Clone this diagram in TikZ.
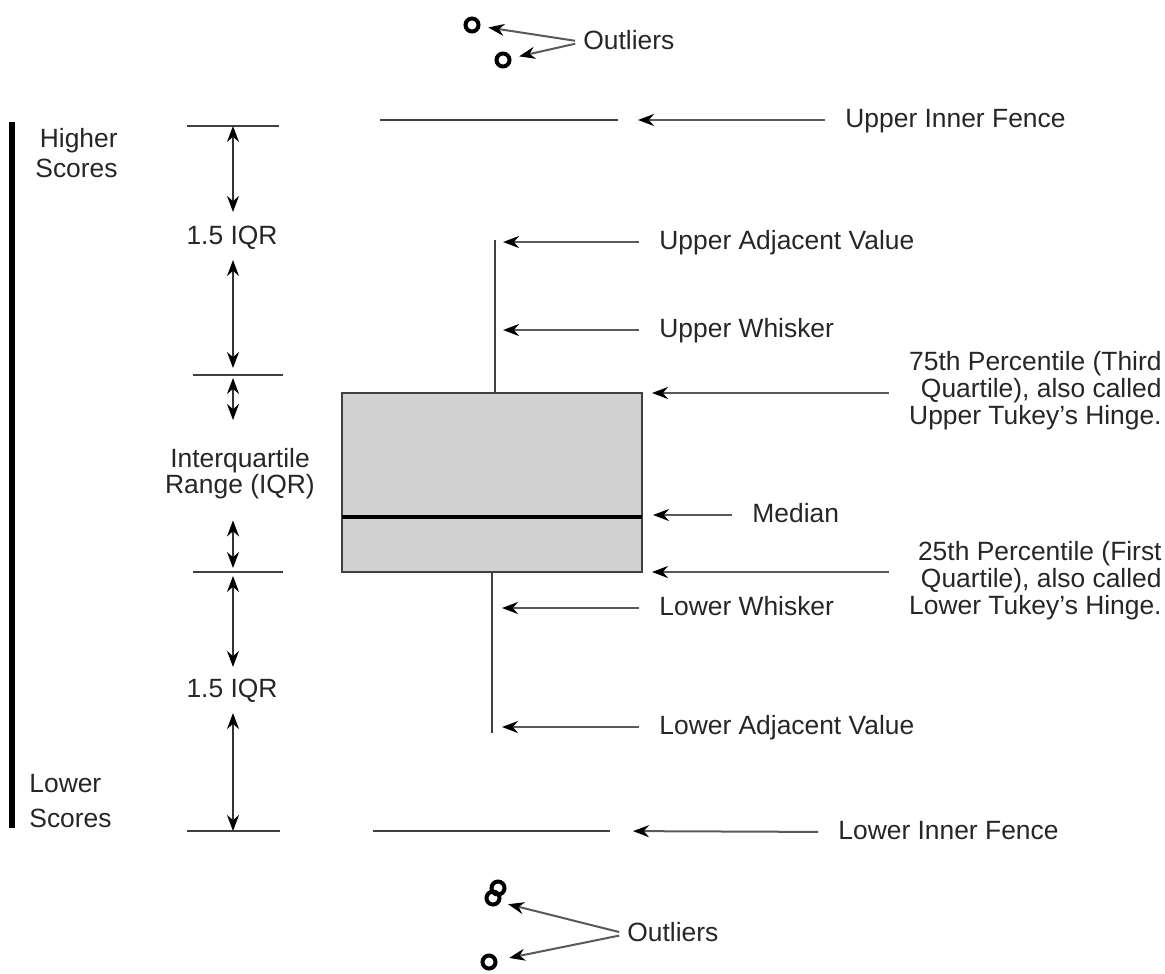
\documentclass[tikz,border=0pt]{standalone}
\usepackage{fontspec}
\setmainfont{Liberation Sans}
\usetikzlibrary{arrows.meta}
\newcommand\lblfont{\fontsize{13.2}{13.5}\selectfont}

\begin{document}
\begin{tikzpicture}
   [x=0.5pt,y=-0.5pt,
    >={Stealth[length=8pt,width=6pt,color=black]},
    every node/.style={inner sep=0pt,font=\lblfont,text=black!85},
    lbl/.style={anchor=west,text height=0.716em,text depth=0pt},
    callout/.style={->,black!65,line width=1pt,shorten <=10pt},
    dimarrow/.style={<->,black!80,line width=0.8pt},
    tick/.style={black!75,line width=1pt},
    outlier/.style={circle,draw=black,line width=2pt,minimum size=6.5pt}]
   \useasboundingbox (0,0) rectangle (1165,973);

   % scale on the left
   \draw[line width=3pt] (12,122) coordinate (barTop) -- (12,828) coordinate (barBot);
   \node[anchor=north east,align=right,font=\fontsize{13.2}{15}\selectfont] (high) at (118,128) {Higher\\Scores};
   \node[anchor=north west,align=left,font=\fontsize{13.2}{17.5}\selectfont] (low) at (29,774) {Lower\\Scores};

   \draw[tick] (187,126) -- (279,126);
   \draw[tick] (193,375) -- (283,375);
   \draw[tick] (193,572) -- (283,572);
   \draw[tick] (187,831) -- (280,831);
   \coordinate (tUF) at (233,126);
   \coordinate (tQ3) at (233,375);
   \coordinate (tQ1) at (233,572);
   \coordinate (tLF) at (233,831);

   \node[text height=0.716em,text depth=0pt] (iqrA) at (232,237) {1.5 IQR};
   \node[anchor=north,align=center,font=\fontsize{13.2}{13}\selectfont] (iqr) at (240,448) {Interquartile\\Range (IQR)};
   \node[text height=0.716em,text depth=0pt] (iqrB) at (232,690) {1.5 IQR};

   \draw[dimarrow,shorten >=8.75pt] (tUF) -- (tUF |- iqrA.north);
   \draw[dimarrow,shorten <=7.75pt,shorten >=3.5pt] (tQ3 |- iqrA.south) -- (tQ3);
   \draw[dimarrow,shorten <=1.5pt,shorten >=14pt] (tQ3) -- (tQ3 |- iqr.north);
   \draw[dimarrow,shorten <=10.5pt,shorten >=2pt] (tQ1 |- iqr.south) -- (tQ1);
   \draw[dimarrow,shorten <=2pt,shorten >=7.75pt] (tQ1) -- (tQ1 |- iqrB.north);
   \draw[dimarrow,shorten <=7.75pt] (tLF |- iqrB.south) -- (tLF);

   % box, whiskers and fences
   \draw[fill=gray!35,draw=black!75,line width=1pt] (342,393) coordinate (boxNW) rectangle (642,572) coordinate (boxSE);
   \coordinate (boxNE) at (642,393);
   \draw[line width=1.8pt] (342,517) -- (642,517) coordinate (medE);
   \draw[tick] (495,240) coordinate (wTop) -- (495,393);
   \draw[tick] (492,572) -- (492,733) coordinate (wBot);
   \draw[tick] (380,120) -- (618,120) coordinate (ufEnd);
   \draw[tick] (373,831) -- (610,831) coordinate (lfEnd);

   % labels on the right
   \node[lbl] (ufence) at (845,120) {Upper Inner Fence};
   \node[lbl] (uadj) at (659,242) {Upper Adjacent Value};
   \node[lbl] (uwhisk) at (659,330) {Upper Whisker};
   \node[anchor=north east,align=right] (q3) at (1162,351) {75th Percentile (Third\\Quartile), also called\\Upper Tukey's Hinge.};
   \node[lbl] (median) at (752,515) {Median};
   \node[anchor=north east,align=right] (q1) at (1162,541) {25th Percentile (First\\Quartile), also called\\Lower Tukey's Hinge.};
   \node[lbl] (lwhisk) at (659,608) {Lower Whisker};
   \node[lbl] (ladj) at (659,727) {Lower Adjacent Value};
   \node[lbl] (lfence) at (838,832) {Lower Inner Fence};

   \draw[callout,shorten >=10pt] (ufence.west) -- (ufEnd);
   \draw[callout,shorten >=4pt] (uadj.west) -- (uadj.west -| wTop);
   \draw[callout,shorten >=4pt] (uwhisk.west) -- (uwhisk.west -| wTop);
   \draw[callout,shorten >=5pt] (q3.west |- boxNE) -- (boxNE);
   \draw[callout,shorten >=5.5pt] (median.west) -- (median.west -| medE);
   \draw[callout,shorten >=5pt] (q1.west |- boxSE) -- (boxSE);
   \draw[callout,shorten >=5pt] (lwhisk.west) -- (lwhisk.west -| wBot);
   \draw[callout,shorten >=5pt] (ladj.west) -- (ladj.west -| wBot);
   \draw[callout,shorten >=11.5pt] (lfence.west) -- (lfEnd);

   % outliers
   \node[outlier] (o1) at (472,25) {};
   \node[outlier] (o2) at (503,60) {};
   \node[lbl] (outTop) at (583,42) {Outliers};
   \draw[callout,shorten <=4pt,shorten >=4pt] (outTop.west) -- (o1);
   \draw[callout,shorten <=4pt,shorten >=4pt] (outTop.west) -- (o2);

   \node[outlier] (o3) at (498,888) {};
   \node[outlier] (o4) at (493,898) {};
   \node[outlier] (o5) at (489,962) {};
   \node[lbl] (outBot) at (627,934) {Outliers};
   \draw[callout,shorten <=4pt,shorten >=4pt] (outBot.west) -- (o4.-30);
   \draw[callout,shorten <=4pt,shorten >=6pt] (outBot.west) -- (o5);
\end{tikzpicture}
\end{document}
